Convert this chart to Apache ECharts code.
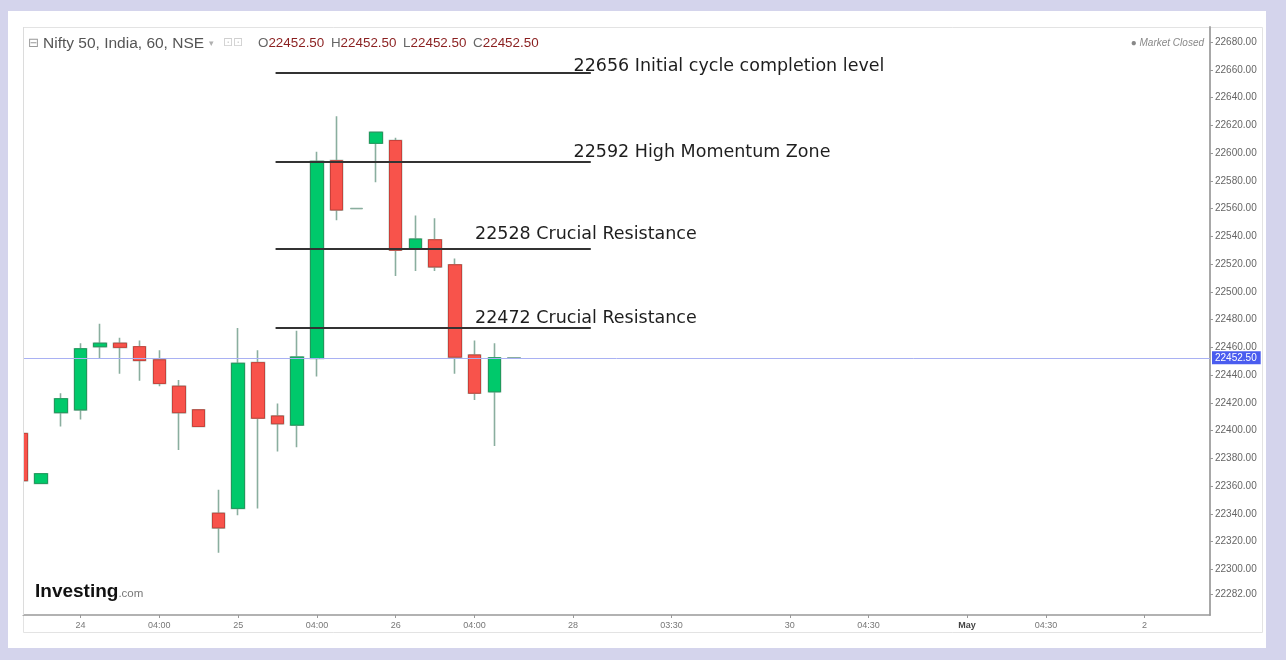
<!DOCTYPE html>
<html>
<head>
<meta charset="utf-8">
<script src="https://cdn.jsdelivr.net/npm/echarts@6/dist/echarts.min.js"></script>
<style>
  html, body { margin: 0; padding: 0; background: #d4d4ec; }
  #chart { width: 1286px; height: 660px; }
</style>
</head>
<body>
<div id="chart"></div>
<script>
// hourly candles, array index = slot on the x axis (slot 0 is cut by the left edge)
const opens  = [22398, 22362, 22413, 22415, 22460.5, 22463, 22460.5, 22451, 22432, 22415, 22340.5, 22344, 22449, 22410.5, 22404, 22452, 22594.5, 22560, 22607, 22609, 22531, 22537.5, 22519.5, 22454.5, 22428, 22452.5];
const closes = [22364, 22369, 22423, 22459, 22463, 22460, 22450.5, 22434, 22413, 22403, 22330, 22448.5, 22409, 22405, 22453, 22594, 22559, 22560, 22615, 22530, 22538, 22518, 22453, 22427, 22452.5, 22452.5];
const lows   = [22363, 22362, 22403, 22408, 22452, 22441, 22436, 22432, 22386, 22403, 22312, 22339, 22344, 22385, 22388, 22439, 22551.5, 22560, 22579, 22511.5, 22515, 22515, 22441, 22422, 22389, 22452.5];
const highs  = [22399, 22369, 22427, 22463, 22477, 22467, 22465, 22458, 22436.5, 22415, 22357.5, 22474, 22458, 22419.5, 22472, 22601, 22626.5, 22560, 22615, 22611, 22555, 22553, 22524, 22465, 22463, 22452.5];

// x axis tick slots and their labels
const xTickSlots  = [3, 7, 11, 15, 19, 23, 28, 33, 39, 43, 48, 52, 57];
const xTickLabels = ["24", "04:00", "25", "04:00", "26", "04:00", "28", "03:30", "30", "04:30", "May", "04:30", "2"];

// right price scale labels
const yTicks = [22680, 22660, 22640, 22620, 22600, 22580, 22560, 22540, 22520, 22500, 22480, 22460,
  22440, 22420, 22400, 22380, 22360, 22340, 22320, 22300, 22282];

const lastPrice = 22452.5;

// hand drawn levels: where each line sits, the slot span, and its note
const levelLineValues = [22658, 22594, 22531, 22474];
const levelTextValues = [22662.5, 22600.5, 22541, 22480.5];
const levelTextSlots  = [28, 28, 23, 23];
const levelTexts = [
  "22656 Initial cycle completion level",
  "22592 High Momentum Zone",
  "22528 Crucial Resistance",
  "22472 Crucial Resistance",
];
const levelStartSlot = 12.9;
const levelEndSlot = 28.9;

const GREEN = "#00c96b", GREEN_B = "#1f9a5c";
const RED = "#f8534b", RED_B = "#c9403a";
const WICK = "#8aae9f";

const chart = echarts.init(document.getElementById("chart"), null, { renderer: "canvas" });

const wickData = opens.map((o, i) => [i, o, closes[i], lows[i], highs[i]]);
const bodyData = opens.map((o, i) => {
  const c = closes[i];
  const item = { value: [i, o, c, Math.min(o, c), Math.max(o, c)] };
  if (o === c) item.itemStyle = { borderColor: WICK, borderColor0: WICK, borderColorDoji: WICK };
  return item;
});

const xLabelOf = (v) => {
  const k = xTickSlots.findIndex((s) => Math.abs(s - v) < 0.01);
  if (k < 0) return "";
  return xTickLabels[k] === "May" ? "{b|May}" : xTickLabels[k];
};

chart.setOption({
  backgroundColor: "#d4d4ec",
  animation: false,
  textStyle: { fontFamily: "Liberation Sans, Arial, sans-serif" },
  grid: { left: 23, right: 76, top: 27, bottom: 45 },
  graphic: [
    { type: "rect", z: -10, silent: true, shape: { x: 8, y: 11, width: 1258, height: 637 }, style: { fill: "#ffffff" } },
    { type: "rect", z: -9, silent: true, shape: { x: 23.5, y: 27.5, width: 1239, height: 605 }, style: { fill: "none", stroke: "#e3e3e3", lineWidth: 1 } },
    // white margin left of the plot, hides the part of slot 0 outside the frame
    { type: "rect", z: 50, silent: true, shape: { x: 8, y: 27, width: 15, height: 588 }, style: { fill: "#ffffff" } },
    { type: "line", z: 51, silent: true, shape: { x1: 23.5, y1: 27, x2: 23.5, y2: 615 }, style: { stroke: "#dcdcdc", lineWidth: 1 } },
    {
      type: "text", left: 28, top: 37, z: 60,
      style: { text: "⊟", fontSize: 13, fill: "#9a9a9a", fontFamily: "DejaVu Sans" },
    },
    {
      type: "text", left: 43, top: 36, z: 60,
      style: { text: "Nifty 50, India, 60, NSE", fontSize: 15.5, fill: "#555" },
    },
    {
      type: "text", left: 209, top: 39, z: 60,
      style: { text: "▾", fontSize: 9, fill: "#b0b0b0", fontFamily: "DejaVu Sans" },
    },
    {
      type: "text", left: 223, top: 37, z: 60,
      style: { text: "⊡⊡", fontSize: 12, fill: "#cfcfcf", fontFamily: "DejaVu Sans" },
    },
    {
      type: "text", left: 258, top: 37, z: 60,
      style: {
        text: "{k|O}{v|22452.50}  {k|H}{v|22452.50}  {k|L}{v|22452.50}  {k|C}{v|22452.50}",
        rich: {
          k: { fontSize: 13.4, fill: "#666" },
          v: { fontSize: 13.4, fill: "#8a1f1f" },
        },
      },
    },
    {
      type: "text", right: 82, top: 38, z: 60,
      style: { text: "● Market Closed", fontSize: 10, fontStyle: "italic", fill: "#888" },
    },
    {
      type: "text", left: 35, top: 582, z: 60,
      style: {
        text: "{a|Investing}{b|.com}",
        rich: {
          a: { fontSize: 19, fontWeight: "bold", fill: "#111", fontFamily: "Liberation Sans" },
          b: { fontSize: 11.5, fill: "#777", padding: [5, 0, 0, 0] },
        },
      },
    },
  ],
  xAxis: {
    type: "value",
    min: 0.08,
    max: 60.33,
    axisLine: { lineStyle: { color: "#999", width: 1.5 } },
    axisTick: { show: true, customValues: xTickSlots, length: 3, lineStyle: { color: "#999" } },
    axisLabel: {
      customValues: xTickSlots,
      formatter: xLabelOf,
      fontSize: 9,
      color: "#777",
      margin: 6,
      rich: { b: { fontSize: 9, fontWeight: "bold", color: "#444" } },
    },
    splitLine: { show: false },
  },
  yAxis: {
    type: "value",
    position: "right",
    min: 22267.2,
    max: 22690.8,
    axisLine: { show: true, lineStyle: { color: "#a8a8a8", width: 2 } },
    axisTick: { show: true, customValues: yTicks, length: 3, lineStyle: { color: "#999" } },
    axisLabel: {
      customValues: yTicks,
      formatter: (v) => v.toFixed(2),
      fontSize: 10,
      color: "#666",
      margin: 5,
    },
    splitLine: { show: false },
  },
  series: [
    {
      name: "wick",
      type: "candlestick",
      barWidth: 13,
      clip: true,
      dimensions: ["slot", "open", "close", "lowest", "highest"],
      encode: { x: "slot", y: ["open", "close", "lowest", "highest"] },
      data: wickData,
      itemStyle: { color: "transparent", color0: "transparent", borderColor: WICK, borderColor0: WICK, borderColorDoji: WICK, borderWidth: 1.6 },
      silent: true,
      z: 2,
    },
    {
      name: "Nifty 50",
      type: "candlestick",
      barWidth: 13,
      clip: true,
      dimensions: ["slot", "open", "close", "lowest", "highest"],
      encode: { x: "slot", y: ["open", "close", "lowest", "highest"] },
      data: bodyData,
      itemStyle: { color: GREEN, color0: RED, borderColor: GREEN_B, borderColor0: RED_B, borderColorDoji: WICK, borderWidth: 1 },
      z: 3,
      markLine: {
        silent: true,
        symbol: "none",
        animation: false,
        data: [
          {
            yAxis: lastPrice,
            lineStyle: { color: "#a9b1f3", width: 1, type: "solid" },
            label: {
              show: true,
              position: "end",
              distance: 2,
              formatter: lastPrice.toFixed(2),
              backgroundColor: "#4a5cef",
              color: "#fff",
              fontSize: 10,
              padding: [2, 4, 1, 3],
            },
          },
          ...levelLineValues.map((v) => [
            { coord: [levelStartSlot, v], lineStyle: { color: "#333", width: 2, type: "solid" }, label: { show: false } },
            { coord: [levelEndSlot, v] },
          ]),
        ],
      },
      markPoint: {
        silent: true,
        symbol: "rect",
        symbolSize: 1,
        itemStyle: { color: "transparent" },
        data: levelTexts.map((t, i) => ({
          name: t,
          coord: [levelTextSlots[i], levelTextValues[i]],
          label: {
            show: true,
            position: "right",
            distance: 0,
            formatter: t,
            fontSize: 17.5,
            color: "#1e1e1e",
            fontFamily: "DejaVu Sans",
          },
        })),
      },
    },
  ],
});
</script>
</body>
</html>
